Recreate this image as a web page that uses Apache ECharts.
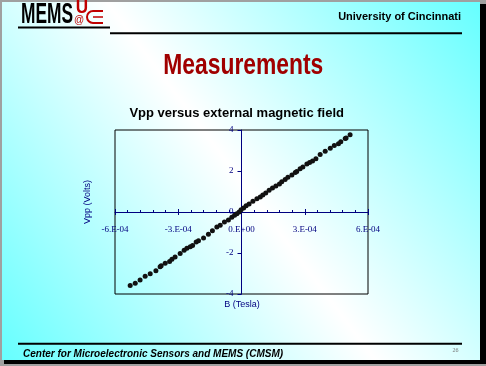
<!DOCTYPE html>
<html>
<head>
<meta charset="utf-8">
<script src="https://cdn.jsdelivr.net/npm/echarts@6/dist/echarts.min.js"></script>
<style>
html,body{margin:0;padding:0;background:#a0a0a0;}
#c{width:486px;height:366px;}
</style>
</head>
<body>
<div id="c"></div>
<script>
// ---- data ----
const bField = [-5.28e-4, -5.04e-4, -4.81e-4, -4.57e-4, -4.33e-4, -4.06e-4, -3.86e-4, -3.81e-4, -3.62e-4, -3.41e-4,
  -3.30e-4, -3.15e-4, -2.91e-4, -2.72e-4, -2.59e-4, -2.43e-4, -2.32e-4, -2.15e-4, -2.04e-4, -1.80e-4,
  -1.57e-4, -1.38e-4, -1.17e-4, -1.01e-4, -0.81e-4, -0.62e-4, -0.46e-4, -0.33e-4, -0.22e-4, -0.11e-4,
  -0.02e-4, 0.10e-4, 0.22e-4, 0.36e-4, 0.54e-4, 0.73e-4, 0.89e-4, 1.01e-4, 1.15e-4, 1.31e-4,
  1.47e-4, 1.63e-4, 1.80e-4, 1.91e-4, 2.07e-4, 2.20e-4, 2.39e-4, 2.55e-4, 2.62e-4, 2.78e-4,
  2.91e-4, 3.10e-4, 3.23e-4, 3.37e-4, 3.53e-4, 3.73e-4, 3.97e-4, 4.21e-4, 4.40e-4, 4.60e-4,
  4.71e-4, 4.92e-4, 4.96e-4, 5.15e-4];
const vpp = [-3.58, -3.48, -3.32, -3.14, -3.01, -2.86, -2.67, -2.62, -2.50, -2.41,
  -2.31, -2.20, -2.03, -1.87, -1.77, -1.69, -1.64, -1.46, -1.40, -1.27,
  -1.09, -0.91, -0.73, -0.65, -0.49, -0.39, -0.26, -0.16, -0.08, 0,
  0.11, 0.20, 0.31, 0.39, 0.52, 0.65, 0.73, 0.83, 0.93, 1.06,
  1.17, 1.27, 1.37, 1.48, 1.58, 1.69, 1.80, 1.93, 1.98, 2.11,
  2.20, 2.34, 2.42, 2.49, 2.60, 2.81, 2.96, 3.11, 3.24, 3.33,
  3.43, 3.58, 3.61, 3.77];
const xTickLabels = ['-6.E-04', '-3.E-04', '0.E+00', '3.E-04', '6.E-04'];
const yTickLabels = ['-4', '-2', '0', '2', '4'];
const xMin = -6e-4, xMax = 6e-4, xStep = 3e-4;
const yMin = -4, yMax = 4, yStep = 2;

const slideTitle = 'Measurements';
const chartTitle = 'Vpp versus external magnetic field';
const xName = 'B (Tesla)';
const yName = 'Vpp (Volts)';
const headerRight = 'University of Cincinnati';
const footerText = 'Center for Microelectronic Sensors and MEMS (CMSM)';
const pageNo = '26';

// ---- helpers ----
const mctx = document.createElement('canvas').getContext('2d');
function fit(text, font, w) { mctx.font = font; return w / mctx.measureText(text).width; }

const navy = '#000080';
const SANS = '"Liberation Sans", Arial, sans-serif';
const SERIF = '"Liberation Serif", "Times New Roman", serif';

const points = bField.map((b, i) => [b, vpp[i]]);

const fMems = 'bold 30px ' + SANS;
const fMeas = 'bold 29px ' + SANS;

const G = {left: 115, top: 130, width: 253, height: 164};
// offsets that bring the label-only axes onto the zero lines
const yZeroPx = G.top + G.height * (yMax - 0) / (yMax - yMin);
const xZeroPx = G.left + G.width * (0 - xMin) / (xMax - xMin);
const xLabOffset = -(G.top + G.height - yZeroPx);
const yLabOffset = -(xZeroPx - G.left);

const noLine = {show: false, onZero: false};

const chart = echarts.init(document.getElementById('c'), null, {renderer: 'canvas'});
chart.setOption({
  backgroundColor: '#a0a0a0',
  animation: false,
  grid: Object.assign({show: true, borderColor: '#000', borderWidth: 1,
         backgroundColor: 'transparent', containLabel: false, outerBoundsMode: 'none'}, G),
  xAxis: [{
    type: 'value', min: xMin, max: xMax, interval: xStep,
    axisLine: {onZero: true, lineStyle: {color: navy, width: 1}},
    axisTick: {show: true, inside: true, length: 3, lineStyle: {color: navy}},
    minorTick: {show: true, splitNumber: 5, length: 2, lineStyle: {color: navy}},
    splitLine: {show: false},
    axisLabel: {show: false}
  }, {
    type: 'value', min: xMin, max: xMax, interval: xStep, position: 'bottom',
    axisLine: {show: false, onZero: true, onZeroAxisIndex: 0},
    axisTick: {show: true, inside: false, length: 3, lineStyle: {color: navy}},
    splitLine: {show: false}, axisLabel: {show: false}
  }, {
    type: 'value', min: xMin, max: xMax, interval: xStep, position: 'bottom', offset: xLabOffset,
    axisLine: noLine, axisTick: {show: false}, splitLine: {show: false},
    axisLabel: {show: true, showMinLabel: true, showMaxLabel: true, margin: 13, color: navy,
      fontFamily: SERIF, fontSize: 9, hideOverlap: false,
      formatter: v => xTickLabels[Math.round((v - xMin) / xStep)]}
  }],
  yAxis: [{
    type: 'value', min: yMin, max: yMax, interval: yStep,
    axisLine: {onZero: true, lineStyle: {color: navy, width: 1}},
    axisTick: {show: true, inside: false, length: 4, lineStyle: {color: navy}},
    splitLine: {show: false},
    axisLabel: {show: false}
  }, {
    type: 'value', min: yMin, max: yMax, interval: yStep, position: 'left', offset: yLabOffset,
    axisLine: noLine, axisTick: {show: false}, splitLine: {show: false},
    axisLabel: {show: true, showMinLabel: true, showMaxLabel: true, margin: 8, color: navy,
      fontFamily: SERIF, fontSize: 9, hideOverlap: false,
      formatter: v => yTickLabels[Math.round((v - yMin) / yStep)]}
  }],
  series: [{
    type: 'scatter', xAxisIndex: 0, yAxisIndex: 0, data: points,
    symbol: 'circle', symbolSize: 5, itemStyle: {color: '#111', opacity: 1}, z: 5
  }],
  graphic: {elements: [
    // shadow + slide
    {type: 'rect', z: -100, silent: true, shape: {x: 4, y: 4, width: 482, height: 360}, style: {fill: '#000'}},
    {type: 'rect', z: -99, silent: true, shape: {x: 2, y: 2, width: 478, height: 358},
      style: {fill: new echarts.graphic.LinearGradient(1, 0, 0, 1, [
        {offset: 0, color: '#66ffff'}, {offset: 0.5, color: '#ffffff'}, {offset: 1, color: '#66ffff'}])}},
    // header
    {type: 'text', z: 10, x: 21, y: 14.5, scaleX: fit('MEMS', fMems, 52),
      style: {text: 'MEMS', font: fMems, fill: '#000', align: 'left', verticalAlign: 'middle'}},
    {type: 'text', z: 10, x: 82, y: 8, scaleX: 0.95,
      style: {text: 'U', font: 'bold 18px ' + SANS, fill: '#c00000', align: 'center', verticalAlign: 'middle'}},
    {type: 'text', z: 10, x: 79, y: 20.5,
      style: {text: '@', font: '10px ' + SANS, fill: '#c00000', align: 'center', verticalAlign: 'middle'}},
    {type: 'arc', z: 10, shape: {cx: 93, cy: 17, r: 6, startAngle: Math.PI / 2, endAngle: Math.PI * 1.5, clockwise: true},
      style: {stroke: '#c00000', lineWidth: 2, fill: null}},
    {type: 'line', z: 10, shape: {x1: 93, y1: 11, x2: 103, y2: 11}, style: {stroke: '#c00000', lineWidth: 2}},
    {type: 'line', z: 10, shape: {x1: 93, y1: 17, x2: 103, y2: 17}, style: {stroke: '#c00000', lineWidth: 1.5}},
    {type: 'line', z: 10, shape: {x1: 93, y1: 23, x2: 103, y2: 23}, style: {stroke: '#c00000', lineWidth: 2}},
    {type: 'line', z: 10, shape: {x1: 18, y1: 27.5, x2: 110, y2: 27.5}, style: {stroke: '#000', lineWidth: 2}},
    {type: 'line', z: 10, shape: {x1: 110, y1: 33.3, x2: 462, y2: 33.3}, style: {stroke: '#000', lineWidth: 2}},
    {type: 'text', z: 10, x: 461, y: 17,
      style: {text: headerRight, font: 'bold 11px ' + SANS, fill: '#000', align: 'right', verticalAlign: 'middle'}},
    // titles
    {type: 'text', z: 10, x: 243.3, y: 66, scaleX: fit(slideTitle, fMeas, 160),
      style: {text: slideTitle, font: fMeas, fill: '#a00000', align: 'center', verticalAlign: 'middle'}},
    {type: 'text', z: 10, x: 236.7, y: 113,
      style: {text: chartTitle, font: 'bold 13px ' + SANS, fill: '#000', align: 'center', verticalAlign: 'middle'}},
    // axis names
    {type: 'text', z: 10, x: 88, y: 202, rotation: Math.PI / 2,
      style: {text: yName, font: '9px ' + SANS, fill: navy, align: 'center', verticalAlign: 'middle'}},
    {type: 'text', z: 10, x: 242, y: 305,
      style: {text: xName, font: '9px ' + SANS, fill: navy, align: 'center', verticalAlign: 'middle'}},
    // footer
    {type: 'line', z: 10, shape: {x1: 18, y1: 343.7, x2: 462, y2: 343.7}, style: {stroke: '#000', lineWidth: 2}},
    {type: 'text', z: 10, x: 23, y: 354,
      style: {text: footerText, font: 'italic bold 10px ' + SANS, fill: '#000', align: 'left', verticalAlign: 'middle'}},
    {type: 'text', z: 10, x: 455.5, y: 350,
      style: {text: pageNo, font: '6px ' + SERIF, fill: '#777', align: 'center', verticalAlign: 'middle'}}
  ]}
});
</script>
</body>
</html>
